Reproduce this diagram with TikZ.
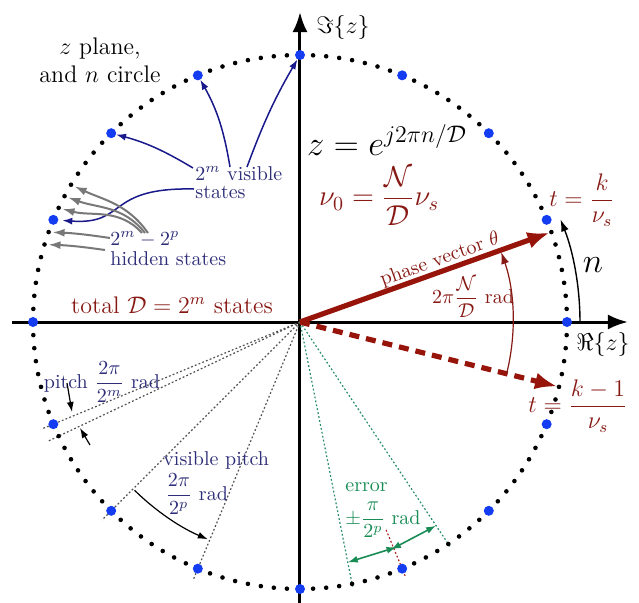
\documentclass[tikz,border=0pt]{standalone}
\usepackage{amsmath,amssymb}
\usetikzlibrary{arrows.meta}
\definecolor{dotblue}{RGB}{20,60,240}
\definecolor{navyarr}{RGB}{25,25,140}
\definecolor{labelblue}{RGB}{45,45,120}
\definecolor{darkred}{RGB}{135,25,20}
\definecolor{vecred}{RGB}{150,20,10}
\definecolor{errgreen}{RGB}{25,140,85}
\definecolor{linegreen}{RGB}{40,140,110}
\definecolor{arrgrey}{RGB}{120,120,120}
\definecolor{pitchgrey}{RGB}{80,80,80}
\definecolor{reddot}{RGB}{170,40,40}
\begin{document}
\begin{tikzpicture}[x=0.5pt,y=0.5pt,
  axis/.style={line width=1.5pt,-{Latex[length=10pt,width=7.5pt]}},
  vec/.style={draw=vecred,line width=2.6pt,-{Latex[length=11pt,width=8.5pt]}},
  bluearr/.style={draw=navyarr,line width=0.75pt,-{Latex[length=5pt,width=3.5pt]}},
  greyarr/.style={draw=arrgrey,line width=1pt,-{Latex[length=6pt,width=4pt]}},
  thinarr/.style={draw=black,line width=0.6pt,-{Latex[length=5pt,width=3.5pt]}},
  pitchline/.style={draw=pitchgrey,line width=0.6pt,dash pattern=on 0.9pt off 1.1pt},
  errline/.style={draw=linegreen,line width=0.6pt,dash pattern=on 0.9pt off 1.1pt},
  errarr/.style={draw=errgreen,line width=0.8pt,{Latex[length=5pt,width=3.5pt]}-{Latex[length=5pt,width=3.5pt]}},
  txt/.style={inner sep=0pt},
  bluetxt/.style={txt,text=labelblue},
  redtxt/.style={txt,text=darkred},
]
\useasboundingbox (-300,-280) rectangle (339,322);

% axes
\coordinate (O) at (0,0);
\coordinate (xL) at (-288,0);
\coordinate (xR) at (328,0);
\coordinate (yB) at (0,-284);
\coordinate (yT) at (0,310);
\draw[axis] (xL) -- (xR);
\draw[axis] (yB) -- (yT);

% circle states
\foreach \i in {0,...,127}{
  \coordinate (d\i) at ({\i*2.8125}:267);
}

% pitch lines (lower left)
\coordinate (pa) at (202.5:280);
\coordinate (pb) at (205.3125:280);
\coordinate (va) at (225:280);
\coordinate (vb) at (247.5:280);
\draw[pitchline] (O) -- (pa);
\draw[pitchline] (O) -- (pb);
\draw[pitchline] (O) -- (va);
\draw[pitchline] (O) -- (vb);

% error lines (lower right)
\coordinate (ea) at (-78.75:270);
\coordinate (eb) at (-56.25:270);
\coordinate (ec1) at (-67.5:225);
\coordinate (ec2) at (-67.5:275);
\draw[errline] (O) -- (ea);
\draw[errline] (O) -- (eb);
\draw[draw=reddot,line width=0.6pt,dash pattern=on 0.9pt off 1.1pt] (ec1) -- (ec2);

\foreach \i in {0,...,127}{
  \pgfmathtruncatemacro{\rem}{mod(\i,8)}
  \ifnum\rem=0
    \fill[dotblue] (d\i) circle[radius=5];
  \else
    \fill[black] (d\i) circle[radius=2.3];
  \fi
}

% phase vectors
\coordinate (P) at (19.6875:265);
\coordinate (Q) at (-14.0625:265);
\draw[vec] (O) -- (P);
\draw[vec,dash pattern=on 5pt off 3.5pt] (O) -- (Q);
\draw[draw=darkred,line width=0.6pt,-{Latex[length=6pt,width=4pt]}]
  (-14.0625:213) arc[start angle=-14.0625,end angle=19.2,radius=213];
\draw[draw=black,line width=0.7pt,-{Latex[length=6pt,width=4pt]}]
  (0:280) arc[start angle=0,end angle=21.5,radius=280];

% visible pitch arc
\draw[thinarr] (225.5:236) arc[start angle=225.5,end angle=247,radius=236];

% pitch arrows
\coordinate (pt1) at (-233,-61);
\coordinate (ph1) at (-228,-90);
\coordinate (pt2) at (-210,-123);
\coordinate (ph2) at (-220,-106);
\draw[thinarr] (pt1) -- (ph1);
\draw[thinarr] (pt2) -- (ph2);

% error arrows
\coordinate (e1) at (-78.75:245);
\coordinate (e2) at (-67.5:245);
\coordinate (e3) at (-56.25:245);
\draw[errarr] (e1) -- ([shift={(-67.5+90:3)}]e2);
\draw[errarr] ([shift={(-67.5-90:3)}]e2) -- (e3);

% labels
\node[txt,font=\large] (im) at (43,295) {$\Im\{z\}$};
\node[txt,font=\large] (re) at (303,-22) {$\Re\{z\}$};
\node[txt,font=\large,align=center] (zp) at (-200,262) {$z$ plane,\\ and $n$ circle};
\node[txt,font=\LARGE] (zeq) at (87,182) {$z = e^{j2\pi n/\mathcal{D}}$};
\node[redtxt,font=\Large] (nu) at (79,126) {$\nu_0 = \dfrac{\mathcal{N}}{\mathcal{D}}\nu_s$};
\node[redtxt,font=\large] (tk) at (282,122) {$t = \dfrac{k}{\nu_s}$};
\node[redtxt,font=\large] (tk1) at (278,-84) {$t = \dfrac{k-1}{\nu_s}$};
\node[txt,font=\LARGE] (nlab) at (293,57) {$n$};
\node[redtxt,rotate=19.6875] (pv) at (140,62) {phase vector $\theta$};
\node[redtxt] (ang) at (173,25) {$2\pi\dfrac{\mathcal{N}}{\mathcal{D}}$ rad};
\node[redtxt,font=\large,anchor=base] (tot) at (-128,9) {total $\mathcal{D}=2^m$ states};

\node[bluetxt,anchor=base west] (vis1) at (-105,142) {$2^m$ visible};
\node[bluetxt,anchor=base west] (vis2) at (-105,124) {states};
\node[bluetxt,anchor=base west] (hid1) at (-190,77) {$2^m-2^p$};
\node[bluetxt,anchor=base west] (hid2) at (-190,57) {hidden states};
\node[bluetxt] (pitch) at (-198,-60) {pitch $\dfrac{2\pi}{2^m}$ rad};
\node[bluetxt,anchor=west] (vp1) at (-137,-138) {visible pitch};
\node[bluetxt,anchor=west] (vp2) at (-135,-172) {$\dfrac{2\pi}{2^p}$ rad};
\node[txt,text=errgreen,anchor=west] (er1) at (45,-165) {error};
\node[txt,text=errgreen,anchor=west] (er2) at (45,-198) {$\pm\dfrac{\pi}{2^p}$ rad};

% blue arrows to visible states
\coordinate (b1) at (-53,155);
\coordinate (b2) at (-70,155);
\coordinate (b3) at (-107,154);
\coordinate (b4) at (-106,133);
\draw[bluearr,shorten >=2.5pt] (b1) to[bend left=5] (d32);
\draw[bluearr,shorten >=2.5pt] (b2) to[bend right=10] (d40);
\draw[bluearr,shorten >=2.5pt] (b3) to[bend right=8] (d48);
\draw[bluearr,shorten >=4.5pt] (b4) .. controls (-195,135) and (-172,97) .. (d56);

% grey arrows to hidden states
\coordinate (g1) at (-152,89);
\coordinate (g2) at (-155,89);
\coordinate (g3) at (-158,89);
\coordinate (g4) at (-190,84);
\coordinate (g5) at (-195,72);
\draw[greyarr,shorten >=2pt] (g1) to[out=125,in=-25] (d53);
\draw[greyarr,shorten >=2pt] (g2) to[out=128,in=-20] (d54);
\draw[greyarr,shorten >=2pt] (g3) to[out=132,in=-15] (d55);
\draw[greyarr,shorten >=2pt] (g4) to[bend right=3] (d57);
\draw[greyarr,shorten >=2pt] (g5) to[bend right=3] (d58);
\end{tikzpicture}
\end{document}
